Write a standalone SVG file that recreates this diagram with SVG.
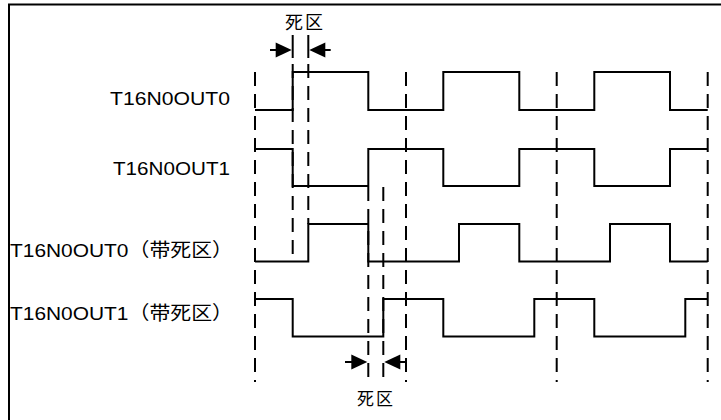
<svg xmlns="http://www.w3.org/2000/svg" width="721" height="420" viewBox="0 0 721 420">
<style>
.frame{fill:none;stroke:#000;stroke-width:2}
.sig{fill:none;stroke:#000;stroke-width:2;stroke-linejoin:miter}
.dash{fill:none;stroke:#000;stroke-width:2;stroke-dasharray:14 8}
.solid{fill:none;stroke:#000;stroke-width:2}
.head{fill:#000;stroke:none}
.lbl{font-family:"Liberation Sans","Noto Sans CJK SC",Arial,sans-serif;font-size:19px;fill:#000}
.cjk{font-family:"Noto Sans CJK SC","Liberation Serif",serif;font-size:18px;fill:#000;letter-spacing:2px}
</style>
<defs>
<path id="ahR" class="head" d="M-16,-7.5 L0,0 L-16,7.5 z"/>
<path id="ahL" class="head" d="M16,-7.5 L0,0 L16,7.5 z"/>
</defs>
<rect width="721" height="420" fill="#fff"/>
<path class="frame" d="M9,420 V4.5 H721"/>

<g id="labels">
<text class="lbl" x="110" y="105" textLength="120" lengthAdjust="spacingAndGlyphs">T16N0OUT0</text>
<text class="lbl" x="113" y="175" textLength="117" lengthAdjust="spacingAndGlyphs">T16N0OUT1</text>
<text class="lbl" x="10" y="257" textLength="223" lengthAdjust="spacingAndGlyphs">T16N0OUT0（带死区）</text>
<text class="lbl" x="10" y="320" textLength="223" lengthAdjust="spacingAndGlyphs">T16N0OUT1（带死区）</text>
<text class="cjk" x="305" y="29" text-anchor="middle">死区</text>
<text class="cjk" x="376" y="405" text-anchor="middle" style="font-size:17px">死区</text>
</g>

<g id="sig-out0">
<path class="sig" d="M255,110 H292.7 V72 H368.3 V110 H443.3 V72 H519.3 V110 H594.3 V72 H670 V110 H707.7"/>
</g>
<g id="sig-out1">
<path class="sig" d="M255,149 H292.7 V186 H368.3 V149 H443.3 V186 H519.3 V149 H594.3 V186 H670 V149 H707.7"/>
</g>
<g id="sig-out0-dead">
<path class="sig" d="M255,261.5 H308.3 V224 H368.3 V261.5 H459 V224 H519.3 V261.5 H610 V224 H670 V261.5 H707.7"/>
</g>
<g id="sig-out1-dead">
<path class="sig" d="M255,299 H292.7 V336.5 H383.3 V299 H443.3 V336.5 H534.3 V299 H594.3 V336.5 H685.3 V299 H707.7"/>
</g>

<g id="connectors">
<line class="dash" x1="255" y1="72" x2="255" y2="382"/>
<line class="solid" x1="292.7" y1="35" x2="292.7" y2="58"/>
<line class="dash" x1="292.7" y1="64" x2="292.7" y2="256"/>
<line class="solid" x1="308.3" y1="35" x2="308.3" y2="58"/>
<line class="dash" x1="308.3" y1="64" x2="308.3" y2="224"/>
<line class="dash" x1="368.3" y1="187" x2="368.3" y2="385"/>
<line class="dash" x1="383.3" y1="187" x2="383.3" y2="385"/>
<line class="dash" x1="406" y1="72" x2="406" y2="382"/>
<line class="dash" x1="556.7" y1="72" x2="556.7" y2="382"/>
<line class="dash" x1="707.7" y1="72" x2="707.7" y2="382"/>
<line class="solid" x1="270" y1="50" x2="280" y2="50"/>
<use href="#ahR" x="291.7" y="50"/>
<line class="solid" x1="330.7" y1="50" x2="321" y2="50"/>
<use href="#ahL" x="309.3" y="50"/>
<line class="solid" x1="345" y1="362" x2="355" y2="362"/>
<use href="#ahR" x="367.3" y="362"/>
<line class="solid" x1="406" y1="362" x2="396" y2="362"/>
<use href="#ahL" x="384.3" y="362"/>
</g>
</svg>
